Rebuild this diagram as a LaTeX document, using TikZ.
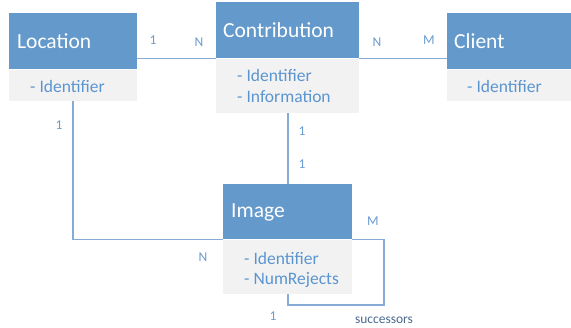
\documentclass[tikz,border=0pt]{standalone}
\usepackage{fontspec}
\setmainfont{Carlito}
\definecolor{hdr}{HTML}{6499CC}
\definecolor{attrbg}{HTML}{F2F2F2}
\definecolor{attrtx}{HTML}{5B95D0}
\definecolor{lnc}{HTML}{86ACD6}
\definecolor{lbl}{HTML}{6A9BD0}
\definecolor{succ}{HTML}{4A6A8E}
\begin{document}
\begin{tikzpicture}[x=1pt,y=-1pt,
  hbox/.style={draw=none,fill=hdr,inner sep=0pt,anchor=north west},
  abox/.style={draw=none,fill=attrbg,inner sep=0pt,anchor=north west},
  htext/.style={anchor=west,inner sep=0pt,text=white,font=\fontsize{21.5}{24}\selectfont},
  atext/.style={anchor=west,inner sep=0pt,text=attrtx,font=\fontsize{17.5}{20}\selectfont},
  card/.style={inner sep=0pt,text=lbl,font=\fontsize{13.5}{15}\selectfont},
  conn/.style={draw=lnc,line width=1.6pt}]
\useasboundingbox (0,0) rectangle (571,328);
% Location
\node[hbox,minimum width=128pt,minimum height=56pt] (locH) at (9,13) {};
\node[abox,minimum width=128pt,minimum height=31pt] (locA) at (9,70) {};
\node[htext] (locT) at (17,41) {Location};
\node[atext] (locI) at (30,86) {- Identifier};
% Contribution
\node[hbox,minimum width=143pt,minimum height=56pt] (conH) at (216,2) {};
\node[abox,minimum width=143pt,minimum height=54pt] (conA) at (216,59) {};
\node[htext] (conT) at (223,30) {Contribution};
\node[atext] (conI) at (237,75) {- Identifier};
\node[atext] (conF) at (237,97) {- Information};
% Client
\node[hbox,minimum width=126pt,minimum height=56pt] (cliH) at (447,13) {};
\node[abox,minimum width=126pt,minimum height=31pt] (cliA) at (447,70) {};
\node[htext] (cliT) at (454,41) {Client};
\node[atext] (cliI) at (467,86) {- Identifier};
% Image
\node[hbox,minimum width=129pt,minimum height=55pt] (imgH) at (223,184) {};
\node[abox,minimum width=129pt,minimum height=54pt] (imgA) at (223,240) {};
\node[htext] (imgT) at (231,212) {Image};
\node[atext] (imgI) at (244,258) {- Identifier};
\node[atext] (imgN) at (244,280) {- NumRejects};
% connectors
\draw[conn] (locH.east |- conH.south) -- (conH.south west);
\draw[conn] (conH.south east) -- (cliH.west |- conH.south);
\draw[conn] (conA.south) -- (imgH.north);
\draw[conn] (locA.south) |- (imgH.south west);
\coordinate (loopc) at (384,305);
\draw[conn] (imgH.south east) -| (loopc) -| (imgA.south);
% cardinalities
\node[card] (c1) at (153,40) {1};
\node[card] (c2) at (199,42) {N};
\node[card] (c3) at (377,42) {N};
\node[card] (c4) at (429,40) {M};
\node[card] (c5) at (302,131) {1};
\node[card] (c6) at (302,164) {1};
\node[card] (c7) at (59,125) {1};
\node[card] (c8) at (203,257) {N};
\node[card] (c9) at (373,221) {M};
\node[card] (c10) at (273,316) {1};
\node[inner sep=0pt,text=succ,font=\fontsize{13.5}{15}\selectfont] (succ) at (384,320) {successors};
\end{tikzpicture}
\end{document}
